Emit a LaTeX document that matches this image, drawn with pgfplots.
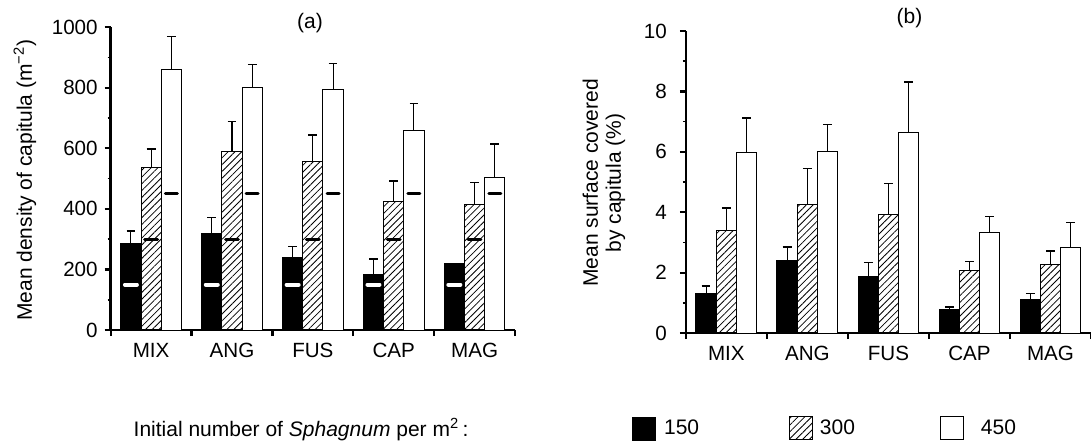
\documentclass[border=0pt]{standalone}
\usepackage{fontspec}
\setmainfont{Liberation Sans}
\usepackage{pgfplots}
\usepackage{pgfplotstable}
\pgfplotsset{compat=1.18}
\usetikzlibrary{patterns.meta}

% panel (a): mean density of capitula, value and upper error
\pgfplotstableread{
x black eb hatch eh white ew
1 284 43 536 61 861 107
2 319 52 588 100 801 76
3 239 36 556 88 795 85
4 182 52 423 69 660 88
5 218 0 413 73 504 110
}\densitytab

% panel (b): mean surface covered by capitula (%)
\pgfplotstableread{
x black eb hatch eh white ew
1 1.31 0.24 3.40 0.74 5.97 1.15
2 2.39 0.46 4.27 1.17 6.01 0.90
3 1.87 0.46 3.92 1.03 6.63 1.68
4 0.78 0.08 2.08 0.28 3.32 0.53
5 1.10 0.21 2.27 0.45 2.84 0.82
}\covertab

% initial densities, marked on the bars of panel (a)
\pgfplotstableread{
x n150 n300 n450
1 150 300 450
2 150 300 450
3 150 300 450
4 150 300 450
5 150 300 450
}\inittab

\newcommand{\tickfont}{\fontsize{10.3}{12}\selectfont}
\newcommand{\labfont}{\fontsize{10.5}{11.5}\selectfont}
\newcommand{\lo}[1]{\raisebox{-3.3pt}{#1}}

\pgfplotsset{
  panel/.style={
    scale only axis, clip=false,
    xmin=0.5, xmax=5.5, ymin=0,
    axis x line*=bottom, axis y line*=left,
    axis line style={line width=1.2pt, -},
    tick align=outside, major tick length=3pt, minor tick length=1.5pt,
    tick style={black, line width=1.1pt},
    minor tick style={line width=0.8pt},
    xtick={0.5,1.5,2.5,3.5,4.5,5.5}, xticklabels={},
    extra x ticks={1,2,3,4,5},
    extra x tick labels={\lo{MIX},\lo{ANG},\lo{FUS},\lo{CAP},\lo{MAG}},
    extra x tick style={tick style={draw=none}},
    minor y tick num=1,
    tick label style={font=\tickfont},
    /pgf/number format/assume math mode=true,
    /pgf/number format/1000 sep={},
    label style={font=\labfont},
  },
  bar/.style={ybar, bar width=0.25, bar shift=0pt, draw=black, line width=0.5pt,
    error bars/y dir=plus, error bars/y explicit,
    error bars/error bar style={black, line width=0.55pt},
    error bars/error mark options={black, rotate=90, mark size=2.2pt, line width=0.7pt}},
  hatchbar/.style={bar, pattern={Lines[angle=45, distance=2.4pt, line width=0.4pt]}},
}

\begin{document}
\begin{tikzpicture}
\useasboundingbox (0,0) rectangle (545.5pt,220.5pt);

\begin{axis}[panel,
  at={(55.35pt,55.5pt)}, anchor=south west,
  width=202.15pt, height=151.5pt,
  ymax=1000, ytick={0,200,...,1000},
  ylabel={Mean density of capitula (m\textsuperscript{−2})},
  ylabel style={at={(axis description cs:-0.212,0.495)}, anchor=center},
  legend columns=-1, legend cell align=left,
  legend style={draw=none, fill=none, inner sep=0pt, column sep=0pt,
    nodes={inner sep=0pt, font=\labfont},
    at={(axis description cs:0.0559,-0.325)}, anchor=west},
]
\addlegendimage{legend image code/.code={}}
\addlegendentry{\makebox[249.2pt][l]{Initial number of \textit{Sphagnum} per m\textsuperscript{2}\,:}}
\addlegendimage{legend image code/.code={\fill[black] (0pt,-5.75pt) rectangle (11.6pt,5.75pt); \path (15.6pt,0pt);}}
\addlegendentry{\makebox[62.6pt][l]{150}}
\addlegendimage{legend image code/.code={\draw[line width=0.5pt, pattern={Lines[angle=45, distance=2.4pt, line width=0.4pt]}] (0pt,-5.75pt) rectangle (11.5pt,5.75pt); \path (14.85pt,0pt);}}
\addlegendentry{\makebox[60.2pt][l]{300}}
\addlegendimage{legend image code/.code={\draw[line width=0.5pt, fill=white] (0pt,-5.75pt) rectangle (11.5pt,5.75pt); \path (19.85pt,0pt);}}
\addlegendentry{450}

\addplot[bar, fill=black] table[x expr=\thisrow{x}-0.25, y=black, y error=eb]{\densitytab};
\addplot[hatchbar] table[x=x, y=hatch, y error=eh]{\densitytab};
\addplot[bar, fill=white] table[x expr=\thisrow{x}+0.25, y=white, y error=ew]{\densitytab};

\addplot[only marks, mark=-, mark size=3pt, mark options={white, line width=2pt, line cap=round}]
  table[x expr=\thisrow{x}-0.25, y=n150]{\inittab};
\addplot[only marks, mark=-, mark size=3.2pt, mark options={black, line width=1.5pt, line cap=round}]
  table[x=x, y=n300]{\inittab};
\addplot[only marks, mark=-, mark size=3pt, mark options={black, line width=1.5pt, line cap=round}]
  table[x expr=\thisrow{x}+0.25, y=n450]{\inittab};

\node[font=\labfont] at (axis description cs:0.493,1.013) {(a)};
\end{axis}

\begin{axis}[panel,
  at={(342.9pt,54pt)}, anchor=south west,
  width=202.6pt, height=151pt,
  ymax=10, ytick={0,2,...,10},
  yticklabel style={xshift=-3pt},
  ylabel={Mean surface covered\\by capitula (\%)},
  ylabel style={at={(axis description cs:-0.202,0.497)}, anchor=center, align=center},
]
\addplot[bar, fill=black] table[x expr=\thisrow{x}-0.25, y=black, y error=eb]{\covertab};
\addplot[hatchbar] table[x=x, y=hatch, y error=eh]{\covertab};
\addplot[bar, fill=white] table[x expr=\thisrow{x}+0.25, y=white, y error=ew]{\covertab};

\node[font=\labfont] at (axis description cs:0.552,1.042) {(b)};
\end{axis}
\end{tikzpicture}
\end{document}
